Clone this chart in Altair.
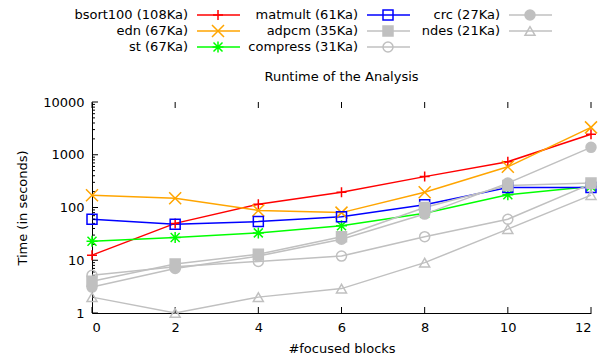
import altair as alt
import pandas as pd

# ---- data ----
blocks = [0, 2, 4, 6, 8, 10, 12]
names = ["bsort100 (108Ka)", "edn (67Ka)", "st (67Ka)", "matmult (61Ka)",
         "adpcm (35Ka)", "compress (31Ka)", "crc (27Ka)", "ndes (21Ka)"]
bsort100 = [12.5, 50, 115, 195, 385, 740, 2450]
edn = [170, 150, 88, 80, 195, 590, 3300]
st = [23, 27, 33, 45, 78, 175, 250]
matmult = [60, 48, 54, 67, 113, 240, 240]
adpcm = [4.0, 8.5, 13, 28, 100, 260, 290]
compress = [5.2, 7.5, 9.5, 12, 28, 60, 280]
crc = [3.1, 7.0, 12, 25, 75, 290, 1380]
ndes = [2.0, 1.0, 2.0, 2.9, 9.0, 39, 172]
series = [bsort100, edn, st, matmult, adpcm, compress, crc, ndes]
title_text = "Runtime of the Analysis"

y_major = [1, 10, 100, 1000, 10000]
y_minor = [m * 10 ** k for k in range(4) for m in range(2, 10)]
x_ticks = [0, 2, 4, 6, 8, 10, 12]

# ---- styles ----
GREY = "#c0c0c0"
colors = ["#ff0000", "#ffa500", "#00ff00", "#0000ff", GREY, GREY, GREY, GREY]
PLUS = "M-1,0L1,0M0,-1L0,1"
XMARK = "M-1.2,-1.2L1.2,1.2M-1.2,1.2L1.2,-1.2"
STAR = "M-1.1,0L1.1,0M0,-1.1L0,1.1M-0.9,-0.9L0.9,0.9M-0.9,0.9L0.9,-0.9"
shapes = [PLUS, XMARK, STAR, "square", "square", "circle", "circle", "triangle-up"]
fills = ["transparent", "transparent", "transparent", "transparent",
         GREY, "transparent", GREY, "transparent"]

FONT = "DejaVu Sans"
FS = 13
W, H = 499, 211

rows = []
for n, vals in zip(names, series):
    for b, v in zip(blocks, vals):
        rows.append({"name": n, "blocks": b, "time": v})
df = pd.DataFrame(rows)

leg = pd.DataFrame({"name": names,
                    "col": [i // 3 for i in range(len(names))],
                    "row": [i % 3 for i in range(len(names))]})

stroke_s = alt.Scale(domain=names, range=colors)
fill_s = alt.Scale(domain=names, range=fills)
shape_s = alt.Scale(domain=names, range=shapes)

xs = alt.Scale(domain=[0, 12], nice=False, zero=False)
ys = alt.Scale(type="log", domain=[1, 10000], nice=False)

x_enc = alt.X("blocks:Q", scale=xs,
              axis=alt.Axis(values=x_ticks, ticks=False, grid=False, labelPadding=8,
                            title="#focused blocks", titleY=35, titleBaseline="middle"))
y_enc = alt.Y("time:Q", scale=ys,
              axis=alt.Axis(values=y_major, format="d", ticks=False, grid=False,
                            labelPadding=8, title="Time (in seconds)",
                            titleX=-70, titleY=H / 2, titleBaseline="middle",
                            titleAlign="center", titleAngle=270))

lines = alt.Chart(df).mark_line(strokeWidth=1.5).encode(
    x=x_enc, y=y_enc,
    stroke=alt.Stroke("name:N", scale=stroke_s, legend=None),
    detail="name:N",
    order="blocks:Q",
)
points = alt.Chart(df).mark_point(opacity=1, strokeWidth=1.5, size=100).encode(
    x=alt.X("blocks:Q", scale=xs),
    y=alt.Y("time:Q", scale=ys),
    stroke=alt.Stroke("name:N", scale=stroke_s, legend=None),
    fill=alt.Fill("name:N", scale=fill_s, legend=None),
    shape=alt.Shape("name:N", scale=shape_s, legend=None),
)

ymaj = alt.Chart(pd.DataFrame({"v": y_major})).mark_rule(color="black", x2Offset=6).encode(
    y=alt.Y("v:Q", scale=ys), x=alt.datum(0), x2=alt.datum(0))
ymin = alt.Chart(pd.DataFrame({"v": y_minor})).mark_rule(color="black", x2Offset=3).encode(
    y=alt.Y("v:Q", scale=ys), x=alt.datum(0), x2=alt.datum(0))
xbot = alt.Chart(pd.DataFrame({"v": x_ticks})).mark_rule(color="black", y2Offset=-6).encode(
    x=alt.X("v:Q", scale=xs), y=alt.datum(1), y2=alt.datum(1))
xtop = alt.Chart(pd.DataFrame({"v": x_ticks})).mark_rule(color="black", y2Offset=6).encode(
    x=alt.X("v:Q", scale=xs), y=alt.datum(10000), y2=alt.datum(10000))
title = alt.Chart(pd.DataFrame({"t": [title_text]})).mark_text(
    font=FONT, fontSize=FS, color="black", align="center", baseline="middle", dy=-25
).encode(x=alt.datum(6), y=alt.datum(10000), text="t:N")

main = alt.layer(lines, ymaj, ymin, xbot, xtop, points, title)

# ---- legend (label right-aligned, then line sample with marker) ----
lxs = alt.Scale(domain=[0, 1, 2], range=[96, 266, 408], nice=False, zero=False)
lys = alt.Scale(domain=[0, 2], range=[-87, -55], nice=False, zero=False)
lx = alt.X("col:Q", scale=lxs, axis=None)
ly = alt.Y("row:Q", scale=lys, axis=None)

leg_text = alt.Chart(leg).mark_text(align="right", baseline="middle", font=FONT,
                                    fontSize=FS, color="black").encode(
    x=lx, y=ly, text="name:N")
leg_line = alt.Chart(leg).mark_rule(strokeWidth=1.5, xOffset=9, x2Offset=52).encode(
    x=lx, x2="col:Q", y=ly,
    stroke=alt.Stroke("name:N", scale=stroke_s, legend=None))
leg_pt = alt.Chart(leg).mark_point(opacity=1, strokeWidth=1.5, size=100, xOffset=30).encode(
    x=lx, y=ly,
    stroke=alt.Stroke("name:N", scale=stroke_s, legend=None),
    fill=alt.Fill("name:N", scale=fill_s, legend=None),
    shape=alt.Shape("name:N", scale=shape_s, legend=None))
legend = alt.layer(leg_text, leg_line, leg_pt)

chart = alt.layer(main, legend).resolve_scale(
    x="independent", y="independent", stroke="shared", fill="shared", shape="shared"
).properties(
    width=W, height=H,
    autosize=alt.AutoSizeParams(type="none"),
    padding={"left": 84, "top": 94, "right": 8, "bottom": 42},
).configure_view(stroke=None).configure_axis(
    labelFont=FONT, titleFont=FONT, labelFontSize=FS, titleFontSize=FS,
    labelColor="black", titleColor="black", titleFontWeight="normal",
    domainColor="black", domainWidth=1,
)

chart.save("out.html", embed_options={"renderer": "svg", "actions": False})
